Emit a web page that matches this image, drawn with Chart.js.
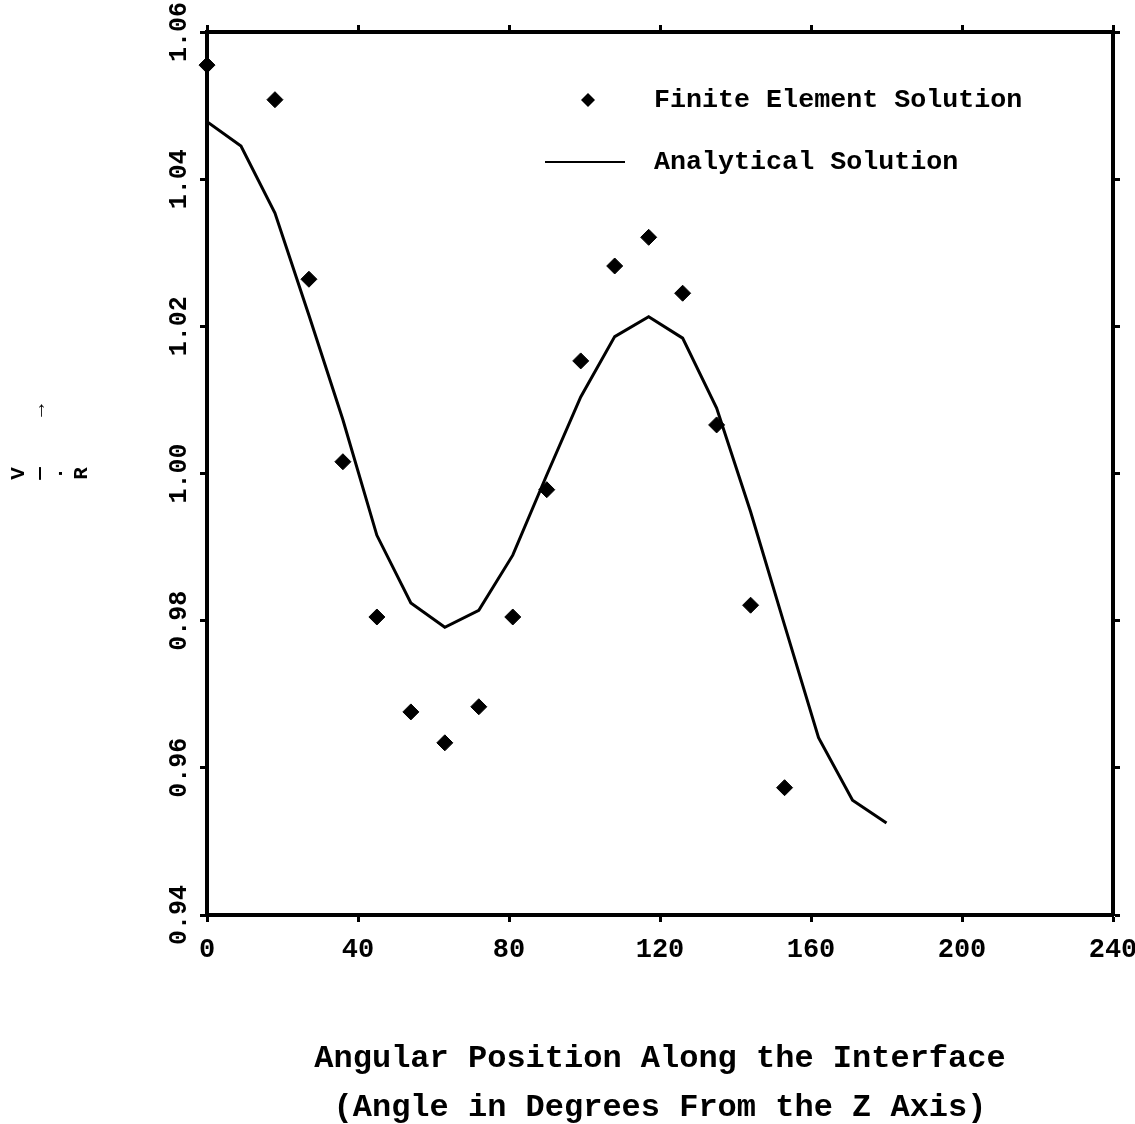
<!DOCTYPE html>
<html>
<head>
<meta charset="utf-8">
<script src="https://cdn.jsdelivr.net/npm/chart.js@4.4.0/dist/chart.umd.min.js"></script>
<style>
  html, body { margin: 0; padding: 0; background: #fff; }
  #wrap { width: 1135px; height: 1124px; position: relative; }
</style>
</head>
<body>
<div id="wrap"><canvas id="chart"></canvas></div>
<script>
// finite element solution (diamonds)
var feAngles = [0, 18, 27, 36, 45, 54, 63, 72, 81, 90, 99, 108, 117, 126, 135, 144, 153];
var feValues = [1.0555, 1.0508, 1.0264, 1.0016, 0.9805, 0.9676, 0.9634, 0.9683, 0.9805, 0.9978,
                1.0153, 1.0282, 1.0321, 1.0245, 1.0066, 0.9821, 0.9573];

// analytical solution (line)
var anAngles = [0, 9, 18, 27, 36, 45, 54, 63, 72, 81, 90, 99, 108, 117, 126, 135, 144, 153, 162, 171, 180];
var anValues = [1.0478, 1.0445, 1.0354, 1.0215, 1.0073, 0.9916, 0.9824, 0.9791, 0.9814, 0.9889, 0.9998,
                1.0104, 1.0186, 1.0213, 1.0184, 1.0089, 0.9948, 0.9794, 0.9641, 0.9556, 0.9525];

var seriesNames = ['Finite Element Solution', 'Analytical Solution'];
var xTitle = ['Angular Position Along the Interface', '(Angle in Degrees From the Z Axis)'];
var yTitle = ['V', '     \u2014    \u2192', '\u00b7', 'R'];

var MONO = '"Liberation Mono", "DejaVu Sans Mono", monospace';

function toPoints(xs, ys) {
    return xs.map(function (x, i) { return { x: x, y: ys[i] }; });
}

// fixed box sizes so the plot sits where the original one does
function fixSize(w, h) {
    return function (s) {
        if (w !== null) s.width = w;
        if (h !== null) s.height = h;
        s.paddingLeft = 0; s.paddingRight = 0;
        s.paddingTop = 0; s.paddingBottom = 0;
    };
}

// legend drawn inside the plot, top right
var legendPlugin = {
    id: 'insideLegend',
    afterDatasetsDraw: function (chart) {
        var ctx = chart.ctx;
        var a = chart.chartArea;
        ctx.save();
        ctx.fillStyle = '#000';
        ctx.strokeStyle = '#000';
        // diamond
        var dx = a.left + 381, dy = a.top + 68, r = 7;
        ctx.beginPath();
        ctx.moveTo(dx - r, dy); ctx.lineTo(dx, dy - r); ctx.lineTo(dx + r, dy); ctx.lineTo(dx, dy + r);
        ctx.closePath();
        ctx.fill();
        // line sample
        ctx.lineWidth = 2;
        ctx.beginPath();
        ctx.moveTo(a.left + 338, a.top + 130);
        ctx.lineTo(a.left + 418, a.top + 130);
        ctx.stroke();
        ctx.font = 'bold 26.7px ' + MONO;
        ctx.textBaseline = 'middle';
        ctx.textAlign = 'left';
        ctx.fillText(seriesNames[0], a.left + 447, dy);
        ctx.fillText(seriesNames[1], a.left + 447, a.top + 130);
        ctx.restore();
    }
};

var tickGrid = {
    drawOnChartArea: false,
    drawTicks: true,
    tickLength: 7,
    tickWidth: 3,
    color: '#000'
};
var axisBorder = { display: true, color: '#000', width: 4 };

new Chart(document.getElementById('chart').getContext('2d'), {
    type: 'scatter',
    data: {
        datasets: [{
            label: seriesNames[0],
            data: toPoints(feAngles, feValues),
            pointStyle: 'rectRot',
            pointRadius: 8,
            pointBackgroundColor: '#000',
            pointBorderColor: '#000',
            showLine: false,
            clip: false
        }, {
            label: seriesNames[1],
            data: toPoints(anAngles, anValues),
            showLine: true,
            borderColor: '#000',
            borderWidth: 3,
            pointRadius: 0,
            tension: 0,
            fill: false
        }]
    },
    options: {
        responsive: true,
        maintainAspectRatio: false,
        animation: false,
        layout: { padding: 0, autoPadding: false },
        plugins: {
            legend: { display: false },
            tooltip: { enabled: false }
        },
        scales: {
            x: {
                type: 'linear',
                position: 'bottom',
                min: 0, max: 240,
                grid: tickGrid,
                border: axisBorder,
                ticks: {
                    stepSize: 40,
                    color: '#000',
                    padding: 12,
                    maxRotation: 0,
                    font: { family: MONO, size: 27, weight: 'bold' }
                },
                title: {
                    display: true,
                    text: xTitle,
                    color: '#000',
                    padding: { top: 0, bottom: -8 },
                    font: { family: MONO, size: 32, weight: 'bold', lineHeight: '49px' }
                },
                afterFit: fixSize(null, 209)
            },
            x2: {
                type: 'linear',
                position: 'top',
                min: 0, max: 240,
                grid: tickGrid,
                border: axisBorder,
                ticks: { stepSize: 40, display: false },
                afterFit: fixSize(null, 32)
            },
            y: {
                type: 'linear',
                position: 'left',
                min: 0.94, max: 1.06,
                grid: tickGrid,
                border: axisBorder,
                ticks: {
                    stepSize: 0.02,
                    color: '#000',
                    minRotation: 90,
                    maxRotation: 90,
                    crossAlign: 'center',
                    padding: -10,
                    font: { family: MONO, size: 25, weight: 'bold' },
                    callback: function (v) { return v.toFixed(2); }
                },
                title: {
                    display: true,
                    text: yTitle,
                    color: '#000',
                    padding: { top: 8, bottom: 0 },
                    font: { family: MONO, size: 21, weight: 'bold', lineHeight: '21px' }
                },
                afterFit: fixSize(207, null)
            },
            y2: {
                type: 'linear',
                position: 'right',
                min: 0.94, max: 1.06,
                grid: tickGrid,
                border: axisBorder,
                ticks: { stepSize: 0.02, display: false },
                afterFit: fixSize(22, null)
            }
        }
    },
    plugins: [legendPlugin]
});
</script>
</body>
</html>
